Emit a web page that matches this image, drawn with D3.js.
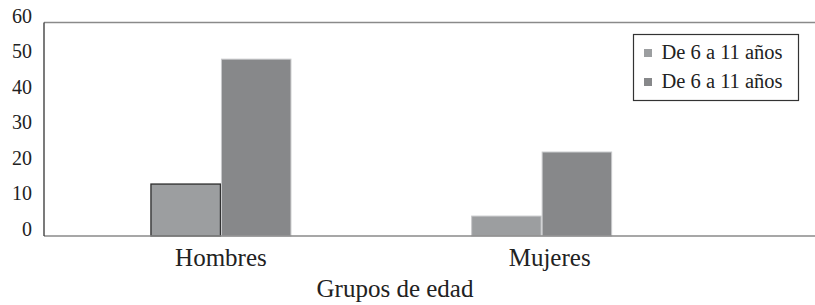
<!DOCTYPE html>
<html>
<head>
<meta charset="utf-8">
<script src="https://cdn.jsdelivr.net/npm/d3@7.9.0/dist/d3.min.js"></script>
<style>
  body { margin: 0; background: #fff; }
  svg text { font-family: "Liberation Serif", "Times New Roman", Times, "DejaVu Serif", serif; }
</style>
</head>
<body>
<svg id="chart" width="815" height="305"></svg>
<script>
// data
const categories = ['Hombres', 'Mujeres'];
const seriesNames = ['De 6 a 11 años', 'De 6 a 11 años'];
const serie1 = [14.6, 5.6];
const serie2 = [49.7, 23.6];
const yTicks = [0, 10, 20, 30, 40, 50, 60];

const svg = d3.select('#chart');
const W = 815;
const plot = { left: 44, top: 22.5, bottom: 236 };

const y = d3.scaleLinear().domain([0, 60]).range([plot.bottom, plot.top]);

// group centers sit at these x positions in the original
const x0 = d3.scaleBand().domain(categories).range([60.6, 702]);
const x1 = d3.scaleBand().domain([0, 1]).range([0, 141]);

const colors = ['#9c9ea0', '#87888a'];
const strokes = ['#c8c9cb', '#c8c9cb'];

// top and bottom frame lines
svg.append('line')
  .attr('x1', plot.left).attr('x2', W)
  .attr('y1', plot.top).attr('y2', plot.top)
  .attr('stroke', '#8a8a8a').attr('stroke-width', 1.5);

// bars
const rows = categories.map((c, i) => ({ cat: c, vals: [serie1[i], serie2[i]] }));
rows.forEach((r, ci) => {
  const gx = x0(r.cat) + x0.bandwidth() / 2 - 70.5;
  r.vals.forEach((v, si) => {
    const dark = ci === 0 && si === 0;
    svg.append('rect')
      .attr('x', gx + x1(si) + 0.5)
      .attr('y', y(v))
      .attr('width', x1.bandwidth() - 1)
      .attr('height', y(0) - y(v))
      .attr('fill', colors[si])
      .attr('stroke', dark ? '#2b2b2b' : strokes[si])
      .attr('stroke-width', dark ? 1.3 : 1);
  });
});

svg.append('line')
  .attr('x1', plot.left).attr('x2', W)
  .attr('y1', plot.bottom).attr('y2', plot.bottom)
  .attr('stroke', '#8a8a8a').attr('stroke-width', 1.5);

// left axis
svg.append('line')
  .attr('x1', plot.left).attr('x2', plot.left)
  .attr('y1', plot.top).attr('y2', plot.bottom)
  .attr('stroke', '#333').attr('stroke-width', 1.3);

svg.selectAll('.ytick')
  .data(yTicks)
  .join('text')
  .attr('class', 'ytick')
  .attr('x', 32)
  .attr('y', d => y(d))
  .attr('text-anchor', 'end')
  .attr('font-size', 20)
  .attr('fill', '#222')
  .text(d => d);

// category labels
svg.selectAll('.xlab')
  .data(categories)
  .join('text')
  .attr('class', 'xlab')
  .attr('x', d => x0(d) + x0.bandwidth() / 2 + (d === 'Mujeres' ? 8 : 0))
  .attr('y', 266)
  .attr('text-anchor', 'middle')
  .attr('font-size', 25)
  .attr('fill', '#222')
  .text(d => d);

svg.append('text')
  .attr('x', 395).attr('y', 297)
  .attr('text-anchor', 'middle')
  .attr('font-size', 25)
  .attr('fill', '#222')
  .text('Grupos de edad');

// legend
const legend = svg.append('g').attr('transform', 'translate(633,34)');
legend.append('rect')
  .attr('x', 0.5).attr('y', 0.5)
  .attr('width', 165).attr('height', 66)
  .attr('fill', '#fff')
  .attr('stroke', '#333').attr('stroke-width', 1.2);

seriesNames.forEach((name, i) => {
  const row = legend.append('g').attr('transform', `translate(0,${15 + i * 29})`);
  row.append('rect')
    .attr('x', 11).attr('y', 0)
    .attr('width', 8).attr('height', 8)
    .attr('fill', colors[i]);
  row.append('text')
    .attr('x', 28.5).attr('y', 10)
    .attr('font-size', 20.5)
    .attr('fill', '#222')
    .text(name);
});
</script>
</body>
</html>
